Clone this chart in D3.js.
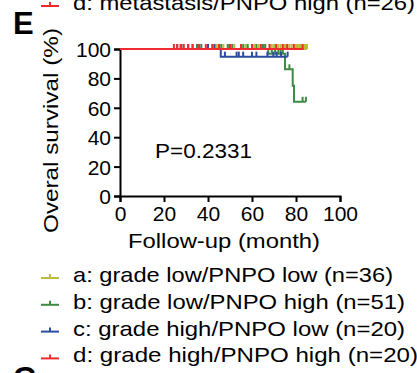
<!DOCTYPE html>
<html>
<head>
<meta charset="utf-8">
<script src="https://cdn.jsdelivr.net/npm/d3@7"></script>
<style>
  body { margin: 0; background: #fff; }
  svg text { font-family: "Liberation Sans", Arial, sans-serif; fill: #000; }
</style>
</head>
<body>
<div id="chart"></div>
<script>
// ---- data ----
const groups = ["a: grade low/PNPO low (n=36)", "b: grade low/PNPO high (n=51)",
                "c: grade high/PNPO low (n=20)", "d: grade high/PNPO high (n=20)"];
const colors = ["#bcbc3a", "#3d8b45", "#2c4da3", "#f02a2e"];

// step curves: [month, survival %] at each event
const stepsA = [[0, 100]];
const stepsB = [[0, 100], [67.4, 96.8], [75, 86.2], [78.5, 75.0], [79.1, 64.1]];
const stepsC = [[0, 100], [45.8, 94.8]];
const stepsD = [[0, 100]];
const lastTime = [85, 84.5, 76.2, 83.5];

// censored follow-up times
const censorA = [40, 44, 47, 49, 52, 55, 57, 58, 60, 61, 63, 64, 66, 68, 69, 70, 71, 72, 73, 74,
                 75, 76, 77, 78, 79, 80, 80.5, 81, 81.5, 82, 82.5, 83, 83.5, 84, 84.5, 85];
const censorB = [28, 33, 35, 37, 40, 42, 46, 49, 50, 51, 56, 58, 60, 62, 65, 66,
                 69, 70.5, 72, 73, 74, 77, 83, 84.5];
const censorC = [26, 31, 36, 40, 43, 47.7, 53, 54, 56, 60, 62, 67, 69.7, 71.2, 73.2, 76.2];
const censorD = [24.5, 26, 27.5, 29, 31, 33, 36, 39, 42, 45, 50, 55, 60, 64, 68, 71, 74, 76, 79, 83];

const xTicks = [0, 20, 40, 60, 80, 100];
const yTicks = [0, 20, 40, 60, 80, 100];

const steps = [stepsA, stepsB, stepsC, stepsD];
const censors = [censorA, censorB, censorC, censorD];

// ---- layout ----
const width = 417, height = 373;
const svg = d3.select("#chart").append("svg")
  .attr("width", width).attr("height", height);

const x = d3.scaleLinear().domain([0, 100]).range([120, 340]);
const y = d3.scaleLinear().domain([0, 100]).range([196, 49]);

// x axis
const xAxis = svg.append("g").attr("transform", "translate(0,196)")
  .call(d3.axisBottom(x).tickValues(xTicks).tickSize(6).tickPadding(2));
// y axis
const yAxis = svg.append("g").attr("transform", "translate(120,0)")
  .call(d3.axisLeft(y).tickValues(yTicks).tickSize(6).tickPadding(3));
[xAxis, yAxis].forEach(a => {
  a.select(".domain").attr("stroke", "#000").attr("stroke-width", 2);
  a.selectAll(".tick line").attr("stroke", "#000").attr("stroke-width", 2);
  a.selectAll(".tick text").style("font-size", "21px").attr("fill", "#000");
});
yAxis.selectAll(".tick text").attr("dy", "0.36em");
xAxis.selectAll(".tick text").attr("dy", "0.8em");

// text helper: the original lettering runs a little wider than Arial
function label(xx, yy, str, len) {
  return svg.append("text").attr("x", xx).attr("y", yy)
    .style("font-size", "21px")
    .attr("textLength", len).attr("lengthAdjust", "spacingAndGlyphs")
    .text(str);
}

// axis titles
label(128, 248, "Follow-up (month)", 192);
svg.append("text").attr("transform", "translate(58,233) rotate(-90)")
  .style("font-size", "21px")
  .attr("textLength", 205).attr("lengthAdjust", "spacingAndGlyphs")
  .text("Overal survival (%)");

label(155, 158, "P=0.2331", 97);

// panel letters
svg.append("text").attr("x", 13).attr("y", 34).style("font-size", "31px")
  .style("font-weight", "bold").text("E");
svg.append("text").attr("x", 13).attr("y", 389).style("font-size", "31px")
  .style("font-weight", "bold").text("G");

// survival value at a given time
function survAt(s, t) {
  let v = 100;
  s.forEach(p => { if (p[0] <= t) v = p[1]; });
  return v;
}

const line = d3.line().curve(d3.curveStepAfter).x(d => x(d[0])).y(d => y(d[1]));

steps.forEach((s, i) => {
  const pts = s.concat([[lastTime[i], s[s.length - 1][1]]]);
  const g = svg.append("g");
  g.append("path").attr("d", line(pts)).attr("fill", "none")
    .attr("stroke", colors[i]).attr("stroke-width", 2);
  g.selectAll("line").data(censors[i]).join("line")
    .attr("x1", d => x(d)).attr("x2", d => x(d))
    .attr("y1", d => y(survAt(s, d))).attr("y2", d => y(survAt(s, d)) - 5)
    .attr("stroke", colors[i]).attr("stroke-width", 2);
});

// legend
const legendTop = "d: metastasis/PNPO high (n=26)";
const legendLens = [320, 332, 332, 345];
function legendRow(str, color, yy, len) {
  svg.append("line").attr("x1", 41).attr("x2", 59).attr("y1", yy).attr("y2", yy)
    .attr("stroke", color).attr("stroke-width", 2);
  svg.append("line").attr("x1", 50).attr("x2", 50).attr("y1", yy).attr("y2", yy - 4)
    .attr("stroke", color).attr("stroke-width", 2);
  label(73, yy + 4, str, len);
}
legendRow(legendTop, colors[3], 6, 342);
groups.forEach((gname, i) => legendRow(gname, colors[i], 278 + i * 26.8, legendLens[i]));
</script>
</body>
</html>
